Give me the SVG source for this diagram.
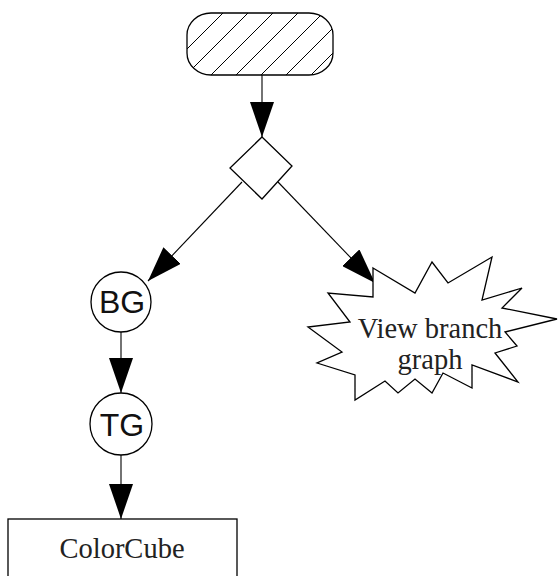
<svg xmlns="http://www.w3.org/2000/svg" width="558" height="576" viewBox="0 0 558 576">
<defs>
<style>
.shape{fill:#fff;stroke:#000;stroke-width:1.3}
.edge{fill:none;stroke:#000;stroke-width:1.1;marker-end:url(#arrow)}
.serif{font-family:"Liberation Serif","Times New Roman",serif;font-size:28.5px;fill:#222;text-anchor:middle}
.sans{font-family:"Liberation Sans",Arial,sans-serif;font-size:32px;fill:#111;text-anchor:middle}
</style>
<pattern id="hatch" patternUnits="userSpaceOnUse" width="25" height="25" x="198" y="13">
<rect width="25" height="25" fill="#fff"/>
<path d="M0,25 L25,0" stroke="#000" stroke-width="1"/>
</pattern>
<marker id="arrow" markerUnits="userSpaceOnUse" markerWidth="36" markerHeight="24" refX="35" refY="12" orient="auto">
<path d="M0,0 L35,12 L0,24 Z" fill="#000"/>
</marker>
</defs>
<g id="connectors">
<path class="edge" d="M262,75 L262,137"/>
<path class="edge" d="M242,182 L148,281"/>
<path class="edge" d="M278,182 L375,283"/>
<path class="edge" d="M121,332 L121,393"/>
<path class="edge" d="M121,455 L121,519"/>
</g>
<g id="start">
<rect class="shape" x="187" y="13" width="146" height="62" rx="24" ry="22" style="fill:url(#hatch)"/>
</g>
<g id="decision">
<polygon class="shape" points="262,137 292,166 262,199 230,168"/>
</g>
<g id="bg">
<circle class="shape" cx="121" cy="302" r="30"/>
<text class="sans" x="122" y="313">BG</text>
</g>
<g id="tg">
<circle class="shape" cx="121" cy="424" r="31"/>
<text class="sans" x="122" y="436">TG</text>
</g>
<g id="view">
<polygon class="shape" points="373,268 415,293 432,262 448,283 492,257 482,300 522,288 502,308 557,319 505,332 517,346 495,353 518,382 472,365 472,388 443,373 432,393 415,379 398,393 385,381 355,400 355,375 317,363 342,352 308,327 350,322 328,293 373,297 373,283"/>
<text class="serif" x="430" y="338">View branch</text>
<text class="serif" x="430" y="369">graph</text>
</g>
<g id="colorcube">
<rect class="shape" x="8" y="519" width="229" height="80"/>
<text class="serif" x="122" y="558">ColorCube</text>
</g>
</svg>
